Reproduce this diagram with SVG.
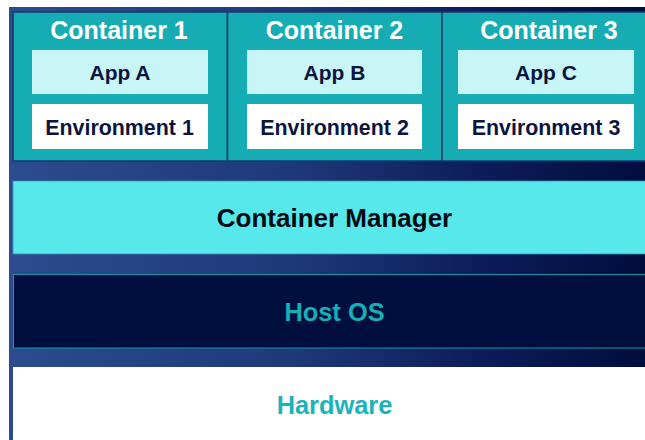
<svg xmlns="http://www.w3.org/2000/svg" width="645" height="440" viewBox="0 0 645 440">
  <defs>
    <linearGradient id="bgGrad" x1="0" y1="0" x2="1" y2="0">
      <stop offset="0" stop-color="#2b4c8f"/>
      <stop offset="0.45" stop-color="#1f3878"/>
      <stop offset="0.75" stop-color="#0c1c58"/>
      <stop offset="1" stop-color="#010d3e"/>
    </linearGradient>
    <style>
      text { font-family: "Liberation Sans", Arial, sans-serif; font-weight: bold; text-anchor: middle; }
      .container { fill: #15adb3; stroke: #163a70; stroke-width: 1.5; }
      .app { fill: #c8f5f5; }
      .env { fill: #ffffff; }
      .title { fill: #ffffff; font-size: 25px; }
      .inner { fill: #0b1440; font-size: 21px; }
      .envtext { font-size: 21.4px; }
      .layer { font-size: 25.4px; }
    </style>
  </defs>

  <!-- backdrop -->
  <rect x="0" y="0" width="645" height="440" fill="#ffffff"/>
  <rect x="9" y="7" width="636" height="433" fill="url(#bgGrad)"/>

  <!-- containers -->
  <g id="container1">
    <rect class="container" x="13" y="12" width="214.5" height="149"/>
    <text class="title" x="119" y="39">Container 1</text>
    <g id="appA">
      <rect class="app" x="32" y="50" width="176" height="44"/>
      <text class="inner" x="120" y="80">App A</text>
    </g>
    <g id="env1">
      <rect class="env" x="32" y="104" width="176" height="45"/>
      <text class="inner envtext" x="119.5" y="134.5">Environment 1</text>
    </g>
  </g>

  <g id="container2">
    <rect class="container" x="227.5" y="12" width="214.5" height="149"/>
    <text class="title" x="334.5" y="39">Container 2</text>
    <g id="appB">
      <rect class="app" x="247" y="50" width="175" height="44"/>
      <text class="inner" x="334.5" y="80">App B</text>
    </g>
    <g id="env2">
      <rect class="env" x="247" y="104" width="175" height="45"/>
      <text class="inner envtext" x="334.5" y="134.5">Environment 2</text>
    </g>
  </g>

  <g id="container3">
    <rect class="container" x="442" y="12" width="210" height="149"/>
    <text class="title" x="549" y="39">Container 3</text>
    <g id="appC">
      <rect class="app" x="458" y="50" width="176" height="44"/>
      <text class="inner" x="546" y="80">App C</text>
    </g>
    <g id="env3">
      <rect class="env" x="458" y="104" width="176" height="45"/>
      <text class="inner envtext" x="546" y="134.5">Environment 3</text>
    </g>
  </g>

  <!-- stack layers -->
  <g id="containerManager">
    <rect x="13" y="181" width="640" height="73" fill="#57e8eb" stroke="#3a8fb5" stroke-width="0.8"/>
    <text class="layer" x="334.5" y="227" fill="#050a14" style="font-size:26px">Container Manager</text>
  </g>

  <g id="hostOS">
    <rect x="13.5" y="274.5" width="640" height="73.5" fill="#000f3f" stroke="#1597a8" stroke-width="1"/>
    <text class="layer" x="334.5" y="321" fill="#17aeb6">Host OS</text>
  </g>

  <g id="hardware">
    <rect x="13" y="367" width="640" height="80" fill="#ffffff"/>
    <text class="layer" x="334.5" y="414" fill="#1ab3bb">Hardware</text>
  </g>

  <g id="connectors"/>
</svg>
